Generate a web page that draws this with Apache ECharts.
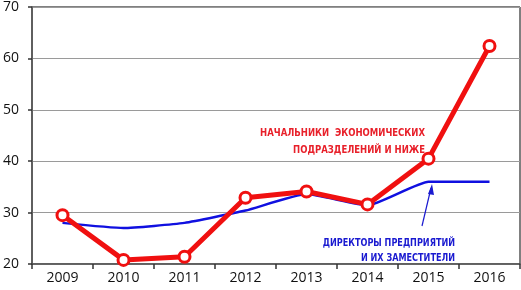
<!DOCTYPE html>
<html>
<head>
<meta charset="utf-8">
<script src="https://cdn.jsdelivr.net/npm/echarts@6/dist/echarts.min.js"></script>
<style>
  html, body { margin: 0; padding: 0; background: #fff; }
  #chart { width: 521px; height: 290px; }
</style>
</head>
<body>
<div id="chart"></div>
<script>
var years = ["2009", "2010", "2011", "2012", "2013", "2014", "2015", "2016"];
// начальники экономических подразделений и ниже
var chiefs = [29.5, 20.8, 21.4, 32.9, 34.1, 31.6, 40.5, 62.4];
// директоры предприятий и их заместители
var directors = [28.0, 27.0, 28.0, 30.4, 33.6, 31.4, 36.0, 36.0];

var myChart = echarts.init(document.getElementById("chart"));

var noteFont = "bold 11px 'DejaVu Sans Condensed', sans-serif";

var option = {
  animation: false,
  grid: {
    left: 30,
    right: 1,
    top: 5,
    bottom: 26,
    show: true,
    borderColor: "#000",
    borderWidth: 1
  },
  xAxis: {
    type: "category",
    data: years,
    boundaryGap: true,
    axisLine: { lineStyle: { color: "#555", width: 1.5 } },
    axisTick: { show: true, length: 5, lineStyle: { color: "#333", width: 1.5 } },
    axisLabel: { color: "#111", fontSize: 14, fontFamily: "Open Sans", margin: 7 }
  },
  yAxis: {
    type: "value",
    min: 20,
    max: 70,
    interval: 10,
    axisLine: { show: true, lineStyle: { color: "#555", width: 1.5 } },
    axisTick: { show: true, length: 4, lineStyle: { color: "#333", width: 1.5 } },
    axisLabel: { color: "#111", fontSize: 14, fontFamily: "Open Sans", margin: 13 },
    splitLine: { lineStyle: { color: "#9a9a9a", width: 1 } }
  },
  series: [
    {
      name: "Директоры предприятий и их заместители",
      type: "line",
      data: directors,
      smooth: 0.15,
      symbol: "none",
      lineStyle: { color: "#1010e0", width: 2.5 },
      z: 2
    },
    {
      name: "Начальники экономических подразделений и ниже",
      type: "line",
      data: chiefs,
      symbol: "circle",
      symbolSize: 11,
      itemStyle: { color: "#fff", borderColor: "#f01010", borderWidth: 3 },
      lineStyle: { color: "#f01010", width: 5 },
      z: 3
    }
  ],
  graphic: [
    {
      type: "text",
      x: 425,
      y: 125,
      scaleX: 0.86,
      style: {
        text: "НАЧАЛЬНИКИ  ЭКОНОМИЧЕСКИХ\nПОДРАЗДЕЛЕНИЙ И НИЖЕ",
        align: "right",
        fill: "#e8202a",
        font: noteFont,
        lineHeight: 17
      },
      z: 10
    },
    {
      type: "text",
      x: 455,
      y: 236,
      scaleX: 0.82,
      style: {
        text: "ДИРЕКТОРЫ ПРЕДПРИЯТИЙ\nИ ИХ ЗАМЕСТИТЕЛИ",
        align: "right",
        fill: "#1a1ad0",
        font: noteFont,
        lineHeight: 15
      },
      z: 10
    },
    {
      type: "line",
      shape: { x1: 422, y1: 226, x2: 431, y2: 188 },
      style: { stroke: "#1a1ad0", lineWidth: 1.2 },
      z: 10
    },
    {
      type: "polygon",
      shape: { points: [[432, 184], [428, 194], [434, 195]] },
      style: { fill: "#1a1ad0" },
      z: 10
    }
  ]
};

option && myChart.setOption(option);
</script>
</body>
</html>
